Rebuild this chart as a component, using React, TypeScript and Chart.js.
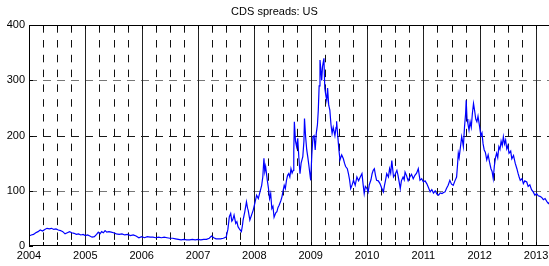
import React, { useEffect, useRef } from 'react';
import { Chart, registerables } from 'chart.js';

Chart.register(...registerables);

const TITLE = 'CDS spreads: US';
const yearTicks = [2004, 2005, 2006, 2007, 2008, 2009, 2010, 2011, 2012, 2013];
const quarterSteps = [0.25, 0.5, 0.75];
const yTicks = [0, 100, 200, 300, 400];
const hGridValues = [100, 200, 300];
const X_MIN = 2004;
const X_MAX = 2013.23;

const dates = [
  2004.00, 2004.04, 2004.08, 2004.12, 2004.16, 2004.20, 2004.24, 2004.28, 2004.32, 2004.36,
  2004.40, 2004.44, 2004.48, 2004.52, 2004.56, 2004.60, 2004.64, 2004.68, 2004.72, 2004.76,
  2004.80, 2004.84, 2004.88, 2004.92, 2004.96, 2005.00, 2005.04, 2005.08, 2005.12, 2005.16,
  2005.20, 2005.23, 2005.26, 2005.29, 2005.32, 2005.35, 2005.38, 2005.42, 2005.46, 2005.50,
  2005.55, 2005.60, 2005.65, 2005.70, 2005.75, 2005.80, 2005.85, 2005.90, 2005.95, 2006.00,
  2006.05, 2006.10, 2006.15, 2006.20, 2006.25, 2006.30, 2006.35, 2006.40, 2006.45, 2006.50,
  2006.55, 2006.60, 2006.65, 2006.70, 2006.75, 2006.80, 2006.85, 2006.90, 2006.95, 2007.00,
  2007.05, 2007.10, 2007.15, 2007.20, 2007.24, 2007.28, 2007.32, 2007.36, 2007.40, 2007.45,
  2007.50, 2007.53, 2007.556, 2007.58, 2007.60, 2007.615, 2007.64, 2007.67, 2007.69, 2007.71,
  2007.74, 2007.77, 2007.79, 2007.80, 2007.83, 2007.86, 2007.88, 2007.89, 2007.92, 2007.95,
  2007.98, 2008.01, 2008.04, 2008.07, 2008.10, 2008.13, 2008.15, 2008.17, 2008.185, 2008.20,
  2008.23, 2008.25, 2008.27, 2008.29, 2008.31, 2008.33, 2008.35, 2008.38, 2008.40, 2008.42,
  2008.44, 2008.47, 2008.49, 2008.51, 2008.53, 2008.55, 2008.57, 2008.59, 2008.61, 2008.63,
  2008.65, 2008.67, 2008.69, 2008.70, 2008.71, 2008.73, 2008.75, 2008.77, 2008.79, 2008.81,
  2008.83, 2008.86, 2008.88, 2008.89, 2008.91, 2008.93, 2008.95, 2008.97, 2009.00, 2009.02,
  2009.04, 2009.06, 2009.08, 2009.10, 2009.12, 2009.135, 2009.15, 2009.165, 2009.18, 2009.195,
  2009.21, 2009.235, 2009.25, 2009.27, 2009.285, 2009.30, 2009.32, 2009.34, 2009.36, 2009.38,
  2009.40, 2009.43, 2009.45, 2009.46, 2009.48, 2009.50, 2009.52, 2009.55, 2009.58, 2009.60,
  2009.62, 2009.65, 2009.67, 2009.69, 2009.71, 2009.74, 2009.76, 2009.79, 2009.82, 2009.85,
  2009.88, 2009.91, 2009.93, 2009.95, 2009.97, 2010.00, 2010.02, 2010.04, 2010.07, 2010.09,
  2010.11, 2010.13, 2010.15, 2010.17, 2010.20, 2010.23, 2010.26, 2010.29, 2010.31, 2010.33,
  2010.35, 2010.38, 2010.40, 2010.42, 2010.44, 2010.46, 2010.47, 2010.50, 2010.53, 2010.55,
  2010.57, 2010.59, 2010.61, 2010.64, 2010.66, 2010.675, 2010.70, 2010.73, 2010.76, 2010.79,
  2010.82, 2010.85, 2010.88, 2010.91, 2010.94, 2010.97, 2011.00, 2011.03, 2011.06, 2011.09,
  2011.12, 2011.15, 2011.18, 2011.21, 2011.24, 2011.27, 2011.30, 2011.33, 2011.36, 2011.385,
  2011.41, 2011.44, 2011.47, 2011.50, 2011.53, 2011.56, 2011.59, 2011.605, 2011.62, 2011.635,
  2011.65, 2011.665, 2011.68, 2011.695, 2011.71, 2011.73, 2011.75, 2011.76, 2011.775, 2011.79,
  2011.81, 2011.83, 2011.85, 2011.87, 2011.89, 2011.91, 2011.93, 2011.95, 2011.97, 2012.00,
  2012.02, 2012.04, 2012.06, 2012.08, 2012.10, 2012.125, 2012.15, 2012.18, 2012.20, 2012.22,
  2012.24, 2012.26, 2012.28, 2012.30, 2012.32, 2012.34, 2012.36, 2012.38, 2012.40, 2012.42,
  2012.44, 2012.46, 2012.48, 2012.50, 2012.52, 2012.55, 2012.57, 2012.60, 2012.63, 2012.66,
  2012.68, 2012.70, 2012.72, 2012.75, 2012.775, 2012.80, 2012.835, 2012.86, 2012.89, 2012.92,
  2012.95, 2012.98, 2013.01, 2013.04, 2013.07, 2013.10, 2013.13, 2013.16, 2013.19, 2013.22,
  2013.25,
];

const spreads = [
  18, 20, 21, 24, 26, 29, 27, 30, 32, 31,
  32, 30, 31, 29, 28, 26, 22, 24, 26, 24,
  23, 21, 22, 20, 21, 19, 20, 18, 16, 17,
  21, 25, 22, 26, 24, 28, 25, 26, 25, 24,
  22, 21, 22, 20, 21, 19, 20, 18, 15, 17,
  15, 17, 16, 16, 15, 16, 15, 16, 15, 14,
  14, 13, 12, 11, 12, 11, 11, 12, 11, 12,
  11, 12, 12, 14, 18, 15, 13, 13, 13, 14,
  16, 30, 53, 59, 45, 47, 56, 41, 44, 35,
  30, 26, 38, 47, 62, 80, 68, 65, 47, 56,
  65, 78, 92, 86, 98, 110, 125, 159, 135, 144,
  119, 105, 86, 95, 68, 72, 52, 60, 62, 70,
  74, 82, 89, 100, 110, 104, 119, 128, 131, 125,
  140, 132, 137, 174, 225, 190, 180, 195, 160, 131,
  150, 162, 190, 231, 198, 174, 160, 144, 119, 165,
  198, 200, 174, 205, 220, 246, 290, 337, 320, 300,
  325, 340, 286, 272, 264, 286, 255, 246, 220, 204,
  215, 200, 215, 226, 200, 175, 156, 165, 158, 150,
  144, 140, 131, 120, 104, 112, 119, 110, 125, 118,
  125, 131, 112, 95, 108, 104, 98, 111, 120, 131,
  137, 140, 128, 119, 118, 113, 105, 98, 110, 120,
  131, 125, 140, 132, 155, 135, 125, 130, 137, 128,
  116, 104, 118, 125, 120, 134, 128, 118, 125, 130,
  122, 128, 132, 140, 119, 122, 116, 118, 113, 106,
  98, 102, 96, 100, 94, 92, 96, 95, 97, 98,
  104, 110, 119, 112, 110, 118, 125, 145, 168, 160,
  160, 185, 198, 190, 180, 215, 240, 264, 230, 222,
  210, 225, 215, 240, 258, 245, 230, 225, 235, 215,
  200, 205, 185, 174, 170, 156, 165, 149, 140, 135,
  122, 145, 160, 168, 160, 180, 175, 190, 182, 198,
  185, 192, 176, 182, 168, 172, 158, 164, 150, 140,
  132, 125, 119, 122, 113, 118, 116, 108, 111, 102,
  98, 92, 95, 91, 90, 88, 84, 86, 81, 77,
  80,
];

const gridPlugin = {
  id: 'matlabGrid',
  beforeDatasetsDraw(chart: any) {
    const { ctx, chartArea: a, scales } = chart;
    const x = scales.x;
    const y = scales.y;
    ctx.save();
    ctx.lineWidth = 1;
    for (const v of hGridValues) {
      const py = Math.round(y.getPixelForValue(v)) + 0.5;
      ctx.strokeStyle = v === 200 ? '#1a1a1a' : '#777777';
      ctx.setLineDash([8, 6]);
      ctx.beginPath();
      ctx.moveTo(a.left, py);
      ctx.lineTo(a.right, py);
      ctx.stroke();
    }
    for (const yr of yearTicks) {
      for (const q of quarterSteps) {
        const v = yr + q;
        if (v > X_MAX) continue;
        const px = Math.round(x.getPixelForValue(v)) + 0.5;
        ctx.strokeStyle = '#111111';
        ctx.setLineDash([7.5, 7.3]);
        ctx.beginPath();
        ctx.moveTo(px, a.top);
        ctx.lineTo(px, a.bottom);
        ctx.stroke();
      }
      if (yr > X_MIN) {
        const px = Math.round(x.getPixelForValue(yr)) + 0.5;
        ctx.strokeStyle = '#222222';
        ctx.setLineDash([]);
        ctx.beginPath();
        ctx.moveTo(px, a.top);
        ctx.lineTo(px, a.bottom);
        ctx.stroke();
      }
    }
    ctx.restore();
  },
  afterDatasetsDraw(chart: any) {
    const { ctx, chartArea: a, scales } = chart;
    const x = scales.x;
    const y = scales.y;
    ctx.save();
    ctx.lineWidth = 1;
    ctx.strokeStyle = '#000000';
    ctx.setLineDash([]);
    ctx.beginPath();
    ctx.moveTo(a.left + 0.5, a.top);
    ctx.lineTo(a.left + 0.5, a.bottom);
    ctx.moveTo(a.left, Math.round(a.top) + 0.5);
    ctx.lineTo(a.right, Math.round(a.top) + 0.5);
    ctx.moveTo(a.left, Math.round(a.bottom) - 0.5);
    ctx.lineTo(a.right, Math.round(a.bottom) - 0.5);
    for (const yr of yearTicks) {
      for (const q of [0, ...quarterSteps]) {
        const v = yr + q;
        if (v > X_MAX) continue;
        const px = Math.round(x.getPixelForValue(v)) + 0.5;
        ctx.moveTo(px, a.top);
        ctx.lineTo(px, a.top + 4);
        ctx.moveTo(px, a.bottom);
        ctx.lineTo(px, a.bottom - 4);
      }
    }
    for (const v of yTicks) {
      const py = Math.round(y.getPixelForValue(v)) + 0.5;
      ctx.moveTo(a.left, py);
      ctx.lineTo(a.left + 4, py);
    }
    ctx.stroke();
    ctx.restore();
  },
};

export default function App() {
  const canvasRef = useRef<HTMLCanvasElement | null>(null);

  useEffect(() => {
    document.body.style.margin = '0';
    const canvas = canvasRef.current;
    if (!canvas) return;
    Chart.defaults.font.family = "'Liberation Sans', Arial, sans-serif";
    Chart.defaults.font.size = 11;
    Chart.defaults.color = '#000000';

    const points = dates.map((d, i) => ({ x: d, y: spreads[i] }));

    const chart = new Chart(canvas, {
      type: 'line',
      data: {
        datasets: [
          {
            data: points,
            borderColor: '#0000ff',
            borderWidth: 1.2,
            pointRadius: 0,
            tension: 0,
            fill: false,
          },
        ],
      },
      options: {
        animation: false,
        responsive: false,
        maintainAspectRatio: false,
        layout: { padding: 0 },
        plugins: {
          legend: { display: false },
          tooltip: { enabled: false },
          title: {
            display: true,
            text: TITLE,
            color: '#000000',
            font: { size: 11, weight: 'normal' },
            padding: { top: 5, bottom: 7 },
          },
        },
        scales: {
          x: {
            type: 'linear',
            min: X_MIN,
            max: X_MAX,
            grid: { display: false, drawTicks: false },
            border: { display: false },
            afterBuildTicks: (scale: any) => {
              scale.ticks = yearTicks.map((v) => ({ value: v }));
            },
            afterFit: (scale: any) => {
              scale.height = 20;
              scale.paddingLeft = 0;
              scale.paddingRight = 0;
            },
            ticks: {
              padding: 3,
              maxRotation: 0,
              autoSkip: false,
              color: '#000000',
              font: { size: 11 },
              callback: (v: any) => String(v),
            },
          },
          y: {
            min: 0,
            max: 400,
            grid: { display: false, drawTicks: false },
            border: { display: false },
            afterBuildTicks: (scale: any) => {
              scale.ticks = yTicks.map((v) => ({ value: v }));
            },
            afterFit: (scale: any) => {
              scale.width = 29;
            },
            ticks: {
              padding: 4,
              color: '#000000',
              font: { size: 11 },
              callback: (v: any) => String(v),
            },
          },
        },
      },
      plugins: [gridPlugin],
    });

    return () => {
      chart.destroy();
    };
  }, []);

  return (
    <div style={{ width: 549, height: 266 }}>
      <canvas ref={canvasRef} width={549} height={266} />
    </div>
  );
}
